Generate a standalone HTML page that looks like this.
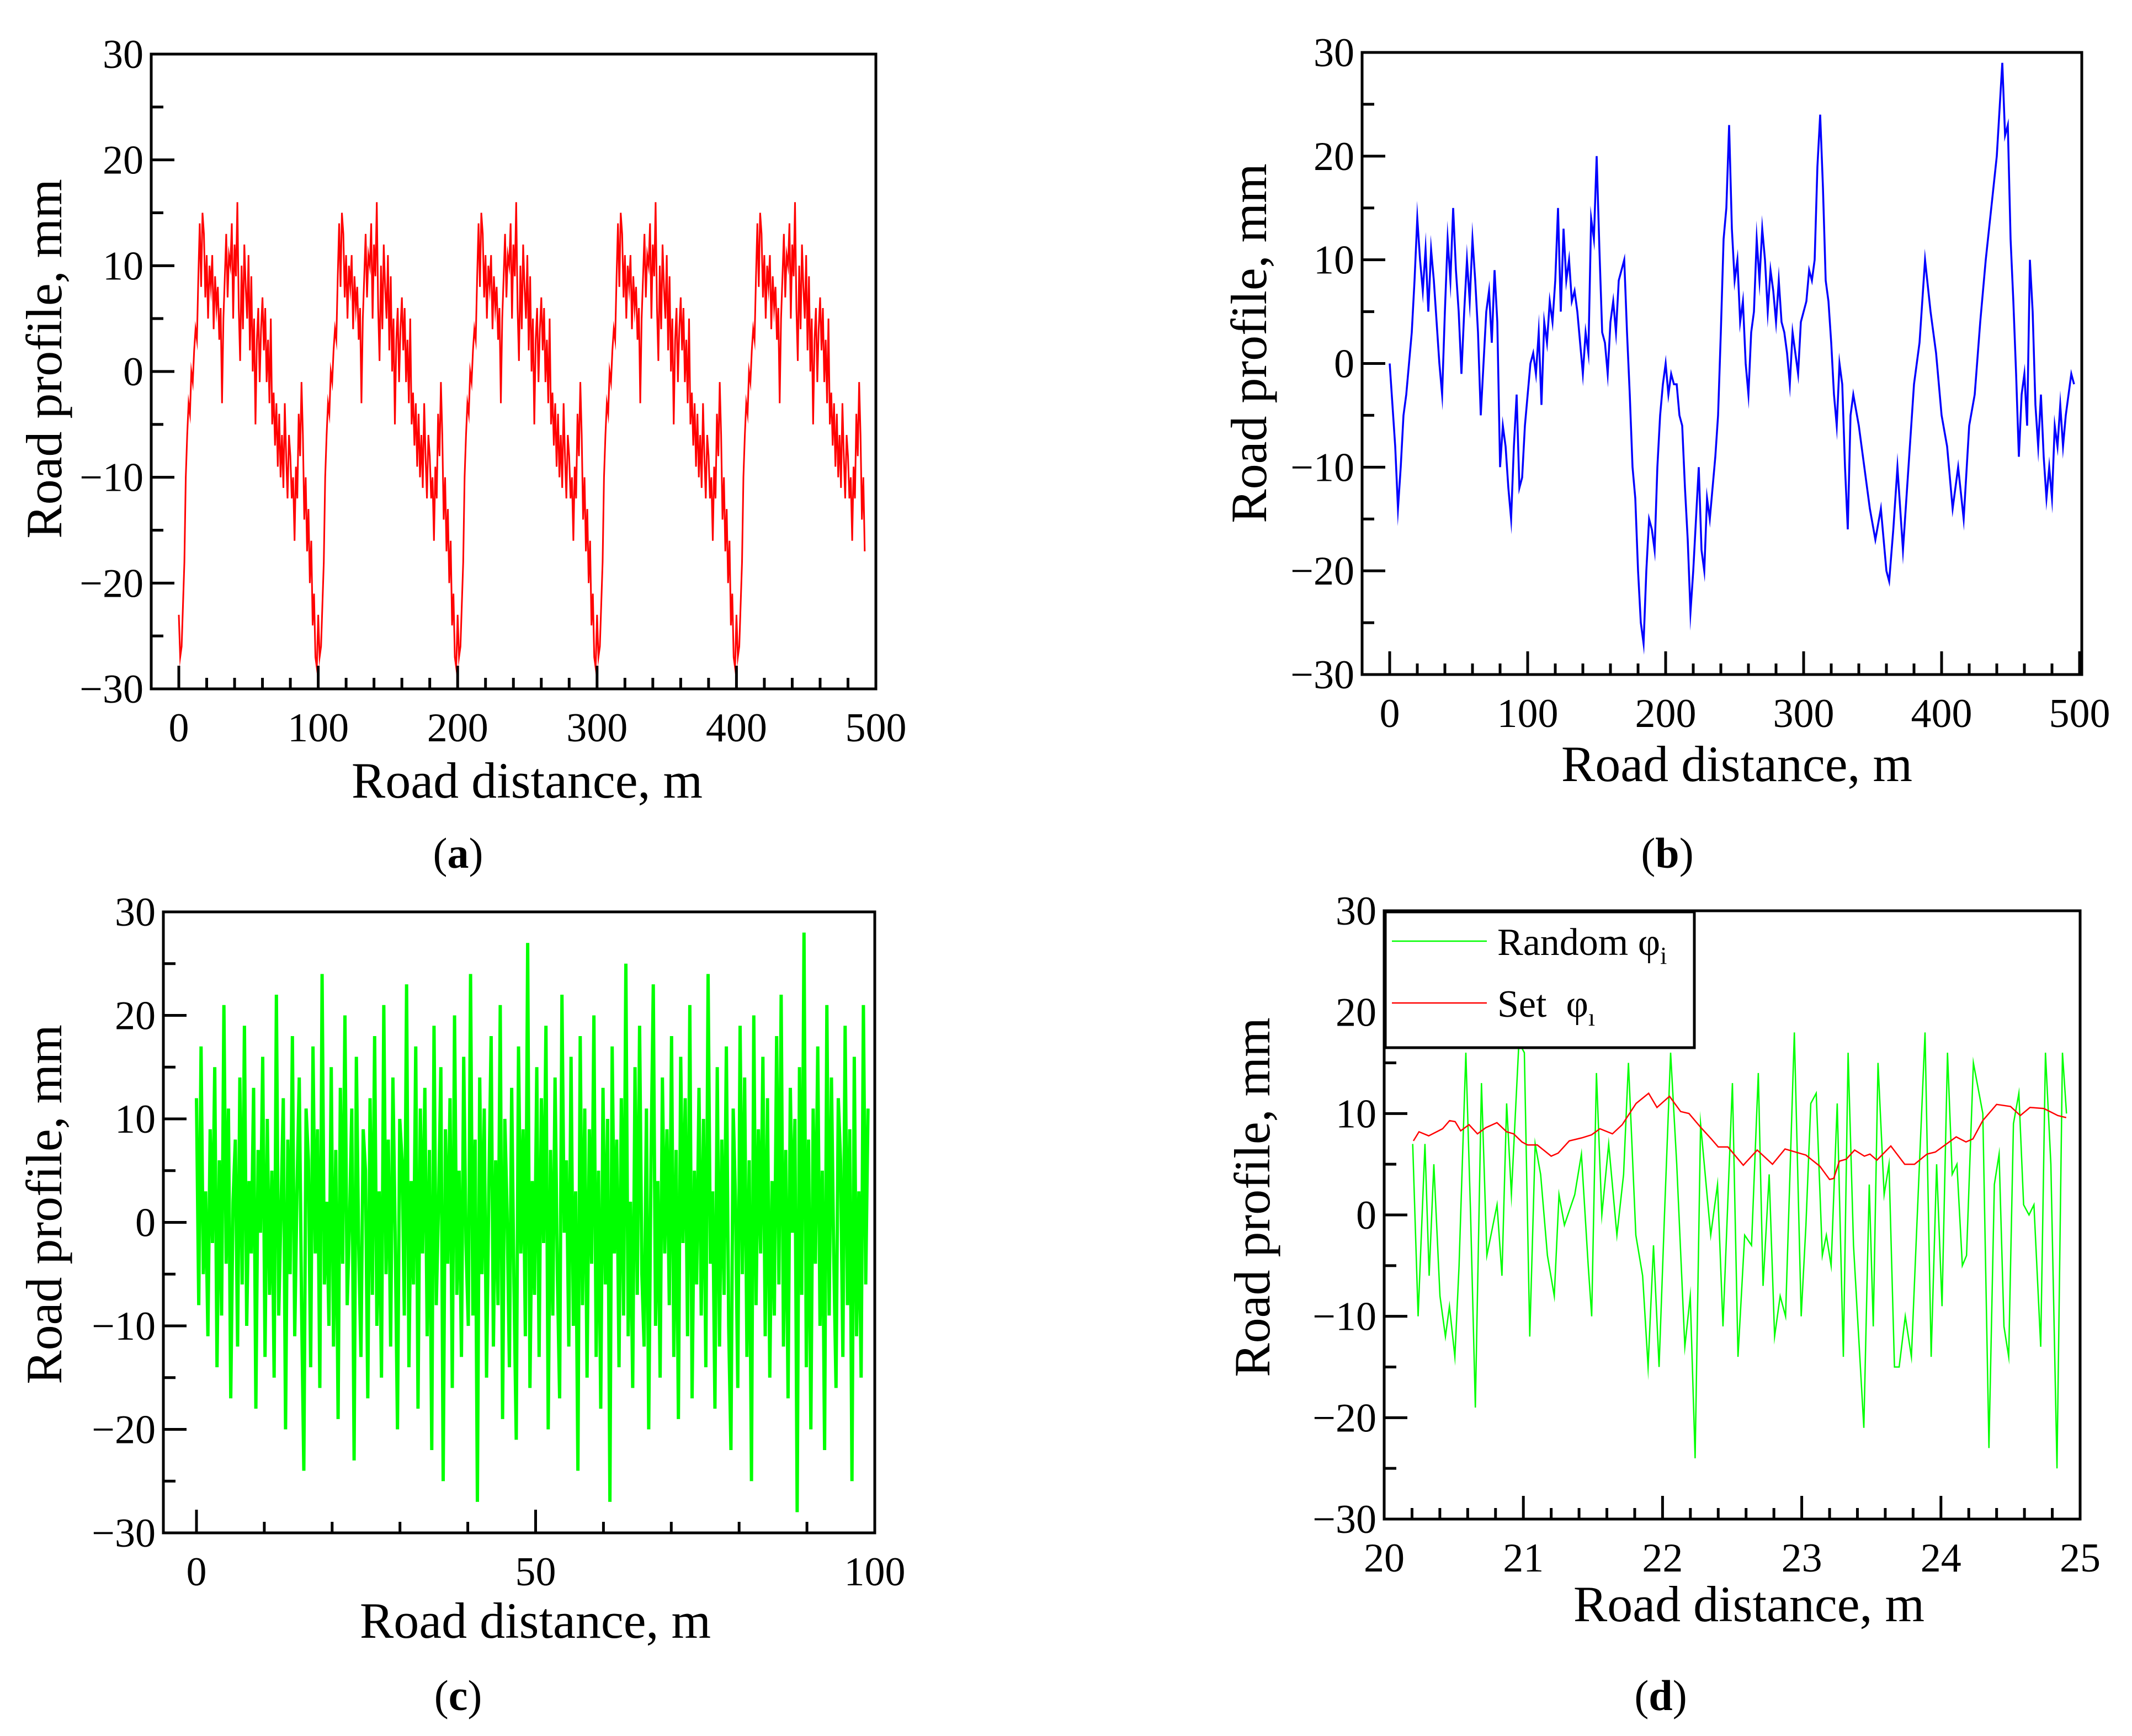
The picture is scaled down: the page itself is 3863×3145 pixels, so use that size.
<!DOCTYPE html>
<html><head><meta charset="utf-8"><style>
html,body{margin:0;padding:0;background:#fff}
svg{display:block}
text{font-family:"Liberation Serif",serif;fill:#000}
</style></head><body>
<svg id="fig" width="3863" height="3145" viewBox="0 0 3863 3145">
<rect x="0" y="0" width="3863" height="3145" fill="#fff"/>
</svg>
<script>
// ---- data ----
const aPeriod=[-23,-27,-26,-22,-18,-10,-6,-3,-4,0,-1,2,4,3,9,14,8,15,13,7,11,5,10,8,11,4,9,6,8,3,6,-3,5,9,13,7,11,10,14,5,12,9,16,6,1,10,4,12,8,5,11,2,9,0,5,-5,3,6,-1,4,7,2,6,-1,3,-3,5,-5,-2,-7,-3,-9,-4,-10,-6,-11,-3,-8,-12,-6,-8,-12,-10,-16,-9,-12,-4,-8,-1,-6,-14,-10,-17,-13,-20,-16,-24,-21,-27,-28];
const aValues=[].concat(aPeriod,aPeriod,aPeriod,aPeriod,aPeriod.slice(0,93));
const bX=[0,4,6,8,10,12,14,16,18,20,22,24,26,28,30,32,34,36,38,40,42,44,46,48,50,52,54,56,58,60,62,64,66,68,70,72,74,76,78,80,82,84,86,88,90,92,94,96,98,100,102,104,106,108,110,112,114,116,118,120,122,124,126,128,130,132,134,136,138,140,142,144,146,148,150,152,154,156,158,160,162,164,166,168,170,172,174,176,178,180,182,184,186,188,190,192,194,196,198,200,202,204,206,208,210,212,214,216,218,220,222,224,226,228,230,232,234,236,238,240,242,244,246,248,250,252,254,256,258,260,262,264,266,268,270,272,274,276,278,280,282,284,286,288,290,292,294,296,298,300,302,304,306,308,310,312,314,316,318,320,322,324,326,328,330,332,334,336,340,344,348,352,356,360,362,365,368,372,376,380,384,388,392,396,400,404,408,412,416,420,424,428,432,436,440,444,446,448,450,452,454,456,458,460,462,464,466,468,470,472,474,476,478,480,482,484,486,488,490,492,494,496,498];
const bY=[0,-8,-14,-10,-5,-3,0,3,8,14,10,7,11,5,11,8,4,0,-3,5,12,8,15,9,5,-1,5,10,6,12,8,3,-5,0,5,7,2,9,4,-10,-6,-8,-12,-15,-8,-3,-12,-11,-6,-3,0,1,-1,3,-4,4,2,6,4,8,15,5,13,8,10,6,7,5,2,-1,3,1,14,12,20,11,3,2,-1,4,6,3,8,9,10,3,-3,-10,-13,-20,-25,-27,-20,-15,-16,-18,-10,-5,-2,0,-3,-1,-2,-2,-5,-6,-12,-17,-24,-20,-15,-10,-18,-20,-13,-15,-12,-9,-5,3,12,15,23,13,8,10,4,6,0,-3,3,5,12,8,13,10,5,9,7,4,8,4,3,1,-2,3,1,-1,4,5,6,9,8,10,19,24,17,8,6,2,-3,-6,0,-2,-10,-16,-5,-3,-6,-10,-14,-17,-14,-20,-21,-16,-10,-18,-10,-2,2,10,5,1,-5,-8,-14,-10,-15,-6,-3,4,10,15,20,29,22,23,12,6,-1,-9,-3,-1,-6,10,5,-4,-8,-3,-9,-13,-10,-13,-6,-8,-4,-8,-5,-3,-1,-2];
const cValues=[12,-8,17,-5,3,-11,9,-2,15,-14,6,-9,21,-4,11,-17,2,8,-12,14,-6,19,-10,4,-3,13,-18,7,-1,16,-13,10,-7,5,-15,22,-9,1,12,-20,8,-5,18,-11,3,14,-8,-24,11,6,-14,17,-3,9,-16,24,-6,2,-10,15,-12,7,-19,13,-4,20,-8,0,11,-23,16,-2,-13,9,5,-17,12,-7,18,-10,3,-15,21,-5,8,-12,14,-1,-20,10,6,-9,23,-14,4,-6,17,-18,11,-3,13,-11,7,-22,19,-8,2,15,-25,9,-4,12,-16,20,-7,5,-13,16,-2,-10,24,-9,8,-27,14,-5,11,-15,3,18,-12,6,-8,21,-19,10,1,-14,13,-6,-21,17,-3,9,-11,27,-16,4,-7,15,-13,12,-2,19,-20,7,-9,14,-5,-17,22,-1,6,-12,16,-10,3,-24,18,-8,11,-15,9,-4,20,-13,5,-18,13,-6,10,-27,17,-3,8,-14,12,-9,25,-11,2,-16,15,-7,19,-5,-12,11,-20,6,23,-10,4,-15,14,-3,9,-8,18,-13,7,-19,16,-2,12,-11,21,-17,5,-6,13,-9,10,-14,24,-4,3,-18,15,-12,8,-7,17,-10,-22,11,2,-16,19,-5,14,-13,6,-25,20,-8,9,-3,16,-11,12,-15,4,-9,18,-6,22,-12,7,-17,13,-1,10,-28,15,-7,28,-14,8,-20,11,-4,17,-10,5,-22,21,-9,14,-3,-16,12,6,-13,19,-8,9,-25,16,-11,3,-15,21,-6,11];
const dGreenX=[20.205,20.244,20.293,20.323,20.357,20.401,20.44,20.469,20.508,20.538,20.587,20.621,20.655,20.699,20.738,20.811,20.846,20.88,20.914,20.968,21.007,21.046,21.085,21.124,21.173,21.222,21.256,21.295,21.369,21.417,21.466,21.491,21.525,21.564,21.613,21.672,21.72,21.755,21.808,21.857,21.896,21.935,21.975,22.014,22.058,22.102,22.16,22.199,22.234,22.273,22.346,22.395,22.434,22.502,22.542,22.59,22.639,22.688,22.722,22.766,22.805,22.845,22.884,22.947,22.996,23.03,23.065,23.104,23.148,23.177,23.211,23.255,23.299,23.333,23.372,23.446,23.485,23.514,23.548,23.592,23.627,23.666,23.7,23.744,23.788,23.827,23.886,23.93,23.969,24.008,24.047,24.081,24.115,24.154,24.184,24.233,24.301,24.345,24.384,24.418,24.453,24.487,24.521,24.56,24.594,24.633,24.668,24.717,24.751,24.79,24.834,24.873,24.902];
const dGreenY=[7,-10,7,-6,5,-8,-12,-9,-14,-5,16,0,-19,13,-4,1,-6,11,2,17,16,-12,7,4,-4,-8,2,-1,2,6,-5,-10,14,0,7,-2,4,15,-2,-6,-15,-3,-15,0,16,5,-13,-8,-24,9,-2,3,-11,13,-14,-2,-3,14,-7,4,-12,-8,-10,18,-10,-1,11,12,-4,-2,-5,11,-14,16,-3,-21,3,-11,15,2,5,-15,-15,-10,-14,-1,18,-14,5,-9,16,4,5,-5,-4,15,10,-23,3,6,-11,-14,9,12,1,0,1,-13,16,5,-25,16,10];
const dRedX=[20.21,20.25,20.32,20.42,20.47,20.51,20.55,20.61,20.67,20.73,20.81,20.88,20.93,20.99,21.03,21.10,21.20,21.25,21.33,21.42,21.49,21.55,21.64,21.71,21.81,21.90,21.96,22.05,22.13,22.19,22.27,22.35,22.40,22.47,22.58,22.68,22.79,22.88,23.03,23.13,23.20,23.23,23.27,23.32,23.38,23.45,23.49,23.54,23.64,23.74,23.81,23.90,23.96,24.06,24.11,24.18,24.23,24.30,24.40,24.50,24.57,24.64,24.74,24.84,24.90];
const dRedY=[7.3,8.2,7.8,8.5,9.3,9.2,8.3,8.9,8.0,8.6,9.1,8.2,8.0,7.2,6.9,6.9,5.8,6.1,7.3,7.6,7.9,8.5,8.0,8.9,11.0,12.0,10.6,11.7,10.2,10.0,8.7,7.5,6.7,6.7,4.9,6.4,5.0,6.5,5.9,4.8,3.5,3.6,5.3,5.5,6.4,5.8,6.0,5.4,6.8,5.0,5.0,6.0,6.2,7.2,7.7,7.2,7.5,9.3,10.9,10.7,9.8,10.6,10.5,9.8,9.6];
const yTickLabels=["30","20","10","0","\u221210","\u221220","\u221230"];
const abXTickLabels=["0","100","200","300","400","500"];
const cXTickLabels=["0","50","100"];
const dXTickLabels=["20","21","22","23","24","25"];

const NS="http://www.w3.org/2000/svg";
const svg=document.getElementById('fig');
function el(tag,attrs,parent){const e=document.createElementNS(NS,tag);for(const k in attrs)e.setAttribute(k,attrs[k]);(parent||svg).appendChild(e);return e;}

function panel(P){
  const g=el('g',{});
  
  
  const sx=v=>P.x0+(v-P.xmin)/(P.xmax-P.xmin)*(P.x1-P.x0);
  const sy=v=>P.yb+(v+30)/60*(P.yt-P.yb);
  P.series.forEach(s=>{
    let d='';
    s.xs.forEach((x,i)=>{d+=(i?'L':'M')+sx(x).toFixed(1)+' '+sy(s.ys[i]).toFixed(1);});
    const p=el('path',{d:d,fill:'none',stroke:s.color,'stroke-width':s.w,'stroke-linejoin':'miter','stroke-miterlimit':20},g);
    
    
  });
  const box=el('rect',{x:P.bl,y:P.yt,width:P.br-P.bl,height:P.yb-P.yt,fill:'none',stroke:'#000','stroke-width':5},g);
  
  
  for(let v=-30;v<=30;v+=5){
    const major=v%10===0;const y=sy(v);
    const t=el('line',{x1:P.bl,x2:P.bl+(major?42:22),y1:y,y2:y,stroke:'#000','stroke-width':5},g);
    
    
  }
  yTickLabels.forEach((lab,i)=>{
    const v=30-i*10;
    const t=el('text',{x:P.bl-14,y:sy(v)+25,'text-anchor':'end','font-size':74},g);
    t.textContent=lab;
    
    
  });
  for(let v=P.xmin;v<=P.xmax+1e-9;v+=P.minor){
    const isMaj=Math.abs(Math.round((v-P.xmin)/P.major)*P.major-(v-P.xmin))<1e-6;
    const x=sx(v);
    const t=el('line',{x1:x,x2:x,y1:P.yb,y2:P.yb-(isMaj?42:20),stroke:'#000','stroke-width':5},g);
    
    
  }
  P.xLabels.forEach((lab,i)=>{
    const v=P.xmin+i*P.major;
    const t=el('text',{x:sx(v),y:P.yb+95,'text-anchor':'middle','font-size':74},g);
    t.textContent=lab;
    
    
  });
  const xt=el('text',{x:P.xtx,y:P.xty,'text-anchor':'middle','font-size':92},g);
  xt.textContent='Road distance, m';
  
  
  const yt=el('text',{transform:`translate(${P.ytx},${P.yty}) rotate(-90)`,'text-anchor':'middle','font-size':92},g);
  yt.textContent='Road profile, mm';
  
  
  const cap=el('text',{x:P.capx,y:P.capy,'text-anchor':'middle','font-size':78},g);
  cap.innerHTML='(<tspan font-weight="bold">'+P.cap+'</tspan>)';
  
  
  return g;
}

panel({name:'panel-a',bl:274,br:1587,yt:98,yb:1248,x0:324,x1:1587,xmin:0,xmax:500,major:100,minor:20,xLabels:abXTickLabels,
  series:[{name:'road-profile-line',xs:aValues.map((v,i)=>i),ys:aValues,color:'#ff0000',w:3}],
  xtx:955,xty:1445,ytx:111,yty:650,capx:830,capy:1572,cap:'a'});
panel({name:'panel-b',bl:2468,br:3772,yt:95,yb:1222,x0:2518,x1:3768,xmin:0,xmax:500,major:100,minor:20,xLabels:abXTickLabels,
  series:[{name:'road-profile-line',xs:bX,ys:bY,color:'#0000ff',w:3.5}],
  xtx:3147,xty:1415,ytx:2294,yty:622,capx:3021,capy:1572,cap:'b'});
panel({name:'panel-c',bl:296,br:1585,yt:1652,yb:2777,x0:356,x1:1585,xmin:0,xmax:100,major:50,minor:10,xLabels:cXTickLabels,
  series:[{name:'random-profile-line',xs:cValues.map((v,i)=>i*99/(cValues.length-1)),ys:cValues,color:'#00ff00',w:6}],
  xtx:970,xty:2967,ytx:111,yty:2182,capx:830,capy:3098,cap:'c'});
const pd={name:'panel-d',bl:2508,br:3769,yt:1650,yb:2752,x0:2508,x1:3769,xmin:20,xmax:25,major:1,minor:0.2,xLabels:dXTickLabels,
  series:[{name:'random-phase-line',xs:dGreenX,ys:dGreenY,color:'#00ff00',w:2.5},{name:'set-phase-line',xs:dRedX,ys:dRedY,color:'#ff0000',w:2.5}],
  xtx:3169,xty:2937,ytx:2300,yty:2169,capx:3009,capy:3098,cap:'d'};
const gd=panel(pd);
const lg=el('g',{},gd);


el('rect',{x:2510,y:1652,width:560,height:246,fill:'#fff',stroke:'#000','stroke-width':5},lg);
const l1=el('line',{x1:2522,x2:2694,y1:1705,y2:1705,stroke:'#00ff00','stroke-width':2.5},lg);


const t1=el('text',{x:2713,y:1730,'font-size':70},lg);
t1.innerHTML='Random φ<tspan font-size="44" dy="16">i</tspan>';


const l2=el('line',{x1:2522,x2:2694,y1:1817,y2:1817,stroke:'#ff0000','stroke-width':2.5},lg);


const t2=el('text',{x:2713,y:1842,'font-size':70},lg);
t2.innerHTML='Set\u00a0\u00a0φ<tspan font-size="44" dy="16">ı</tspan>';


</script>
</body></html>
